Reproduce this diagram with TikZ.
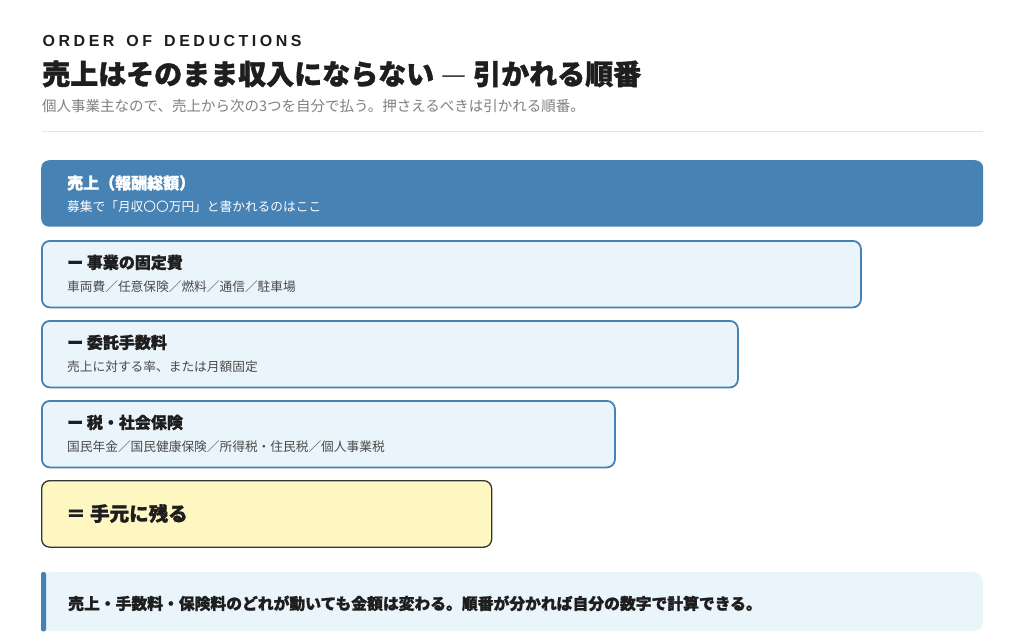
\documentclass[tikz,border=0pt]{standalone}
\usepackage{fontspec}
\setmainfont{Noto Sans CJK JP}[BoldFeatures={FakeBold=1.4}]
\newfontfamily\spaced{Liberation Sans}[LetterSpace=22,WordSpace=1.5]
\definecolor{steel}{HTML}{4682B4}
\definecolor{lightfill}{HTML}{EAF4FB}
\definecolor{yel}{HTML}{FFF7C2}
\definecolor{ink}{HTML}{1E1E1E}
\definecolor{subgray}{HTML}{808080}
\definecolor{boxgray}{HTML}{4A4A4A}
\definecolor{rule}{HTML}{E6E6E6}
\begin{document}
\begin{tikzpicture}[x=1pt,y=-1pt,
  txt/.style={inner sep=0pt,anchor=base west},
  panel/.style={anchor=north west,inner sep=0pt,rounded corners=8pt,minimum height=66.5},
  stepbox/.style={panel,fill=lightfill,draw=steel,line width=1.8pt},
  btitle/.style={txt,font=\fontsize{16}{18}\selectfont\bfseries,text=ink},
  bsub/.style={txt,font=\fontsize{12.7}{14}\selectfont,text=boxgray}]
\useasboundingbox (0,0) rectangle (1024,641);
\fill[white] (0,0) rectangle (1024,641);
% header
\node[txt,font=\fontsize{16}{18}\selectfont\spaced\bfseries,text=ink] (kick) at (42.5,46.3) {ORDER OF DEDUCTIONS};
\node[txt,font=\fontsize{28}{32}\selectfont\bfseries,text=ink] (title) at (42,84.5) {売上はそのまま収入にならない\hspace{7pt}{\mdseries\color{ink!85}—}\hspace{7pt}引かれる順番};
\node[txt,font=\fontsize{14.5}{16}\selectfont,text=subgray] (sub) at (42,111) {個人事業主なので、売上から次の3つを自分で払う。押さえるべきは引かれる順番。};
\coordinate (r1) at (42,131);
\coordinate (r2) at (983,131);
\draw[rule,line width=1pt] (r1) -- (r2);
% box 1
\node[panel,fill=steel,minimum width=942] (b1) at (41,160) {};
\node[btitle,text=white] (b1t) at (67,189) {売上（報酬総額）};
\node[bsub,text=white] (b1s) at (67,211.5) {募集で「月収〇〇万円」と書かれるのはここ};
% box 2
\node[stepbox,minimum width=819] (b2) at (41,240) {};
\node[btitle] (b2t) at (67,268.5) {ー 事業の固定費};
\node[bsub] (b2s) at (67,291.5) {車両費／任意保険／燃料／通信／駐車場};
% box 3
\node[stepbox,minimum width=696] (b3) at (41,320) {};
\node[btitle] (b3t) at (67,348.5) {ー 委託手数料};
\node[bsub] (b3s) at (67,371.5) {売上に対する率、または月額固定};
% box 4
\node[stepbox,minimum width=573] (b4) at (41,400) {};
\node[btitle] (b4t) at (67,428.5) {ー 税・社会保険};
\node[bsub] (b4s) at (67,451.5) {国民年金／国民健康保険／所得税・住民税／個人事業税};
% box 5
\node[panel,fill=yel,draw=ink!90,line width=1.3pt,minimum width=450] (b5) at (41,480) {};
\node[txt,font=\fontsize{19.5}{22}\selectfont\bfseries,text=ink] (b5t) at (66,521) {＝ 手元に残る};
% note
\node[anchor=north west,inner sep=0pt,fill=lightfill,rounded corners=10pt,minimum width=942,minimum height=59] (note) at (41,572) {};
\fill[steel,rounded corners=2pt] (note.north west) rectangle ([xshift=5pt]note.south west);
\node[txt,font=\fontsize{15.8}{18}\selectfont\bfseries,text=ink] (notet) at (68,609.5) {売上・手数料・保険料のどれが動いても金額は変わる。順番が分かれば自分の数字で計算できる。};
\end{tikzpicture}
\end{document}
